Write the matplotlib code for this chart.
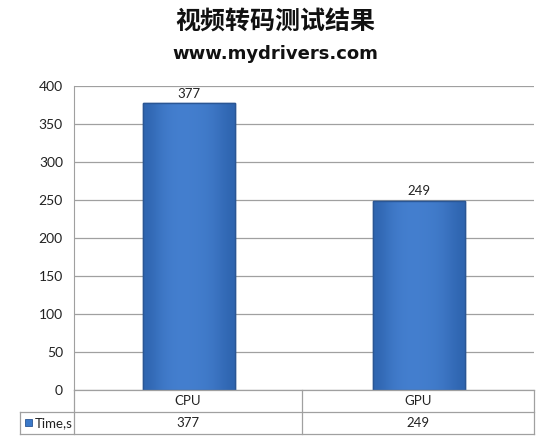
import numpy as np
import matplotlib.pyplot as plt
from matplotlib.lines import Line2D
from matplotlib.patches import Rectangle
from matplotlib.colors import LinearSegmentedColormap

plt.rcParams['font.family'] = ['Lato', 'Noto Sans CJK SC', 'DejaVu Sans']

# data
categories = ['CPU', 'GPU']
times = [377, 249]
series_name = 'Time,s'
yticks = [0, 50, 100, 150, 200, 250, 300, 350, 400]

W, H = 550, 444
fig = plt.figure(figsize=(5.5, 4.44), dpi=100)
ax = fig.add_axes([74 / W, 1 - 390 / H, 460 / W, 304 / H])

x = np.arange(len(categories))
bars = ax.bar(x, times, width=0.4, color='#3b79c9', edgecolor='#2a5694', linewidth=1.0, zorder=3)

# soft horizontal shading inside each bar
grad = np.array([[0.0, 0.55, 0.8, 0.85, 0.8, 0.7, 0.45, 0.0]])
cmap = LinearSegmentedColormap.from_list('bar', ['#2f65b0', '#447fcf'])
for b in bars:
    bx, by = b.get_x(), b.get_y()
    im = ax.imshow(grad, extent=[bx, bx + b.get_width(), by, by + b.get_height()],
                   aspect='auto', cmap=cmap, interpolation='bicubic', zorder=3.5)
    im.set_clip_path(b)
    ax.add_patch(Rectangle((bx, by), b.get_width(), b.get_height(), fill=False,
                           edgecolor='#2a5694', linewidth=1.0, zorder=4))

for xi, v in zip(x, times):
    ax.text(xi, v + 5, str(v), ha='center', va='bottom', fontsize=9.5, color='#222222')

ax.set_xlim(-0.5, 1.5)
ax.set_ylim(0, 400)
ax.set_yticks(yticks)
ax.set_yticklabels([str(t) for t in yticks], fontsize=10, color='#222222')
ax.tick_params(axis='y', length=0, pad=8)
ax.set_xticks([])
ax.grid(axis='y', color='#a0a0a0', linewidth=0.9, zorder=0)
for s in ['top', 'right', 'bottom']:
    ax.spines[s].set_visible(False)
ax.spines['left'].set_color('#a0a0a0')

# titles
fig.text(0.5, 1 - 22 / H, '视频转码测试结果', ha='center', va='center', fontsize=18,
         fontweight='bold', color='#111111', family=['Noto Sans CJK SC', 'DejaVu Sans'])
fig.text(0.5, 1 - 54 / H, 'www.mydrivers.com', ha='center', va='center', fontsize=13,
         fontweight='bold', color='#111111', family=['DejaVu Sans'])

# data table
lc = '#a0a0a0'
def fx(p):
    return p / W
def fy(p):
    return 1 - p / H
lines = [
    ((74, 534), (390, 390)),
    ((20, 534), (412, 412)),
    ((20, 534), (434, 434)),
    ((74, 74), (390, 434)),
    ((302, 302), (390, 434)),
    ((534, 534), (390, 434)),
    ((20, 20), (412, 434)),
]
for (xs, ys) in lines:
    fig.add_artist(Line2D([fx(xs[0]), fx(xs[1])], [fy(ys[0]), fy(ys[1])], color=lc, linewidth=0.9))

col_centers = [188, 418]
for c, name, v in zip(col_centers, categories, times):
    fig.text(fx(c), fy(401), name, ha='center', va='center', fontsize=9.5, color='#222222')
    fig.text(fx(c), fy(423), str(v), ha='center', va='center', fontsize=9.5, color='#222222')
fig.add_artist(Rectangle((fx(25), fy(426)), 7 / W, 7 / H, facecolor='#3b79c9', edgecolor='#2a5694', linewidth=0.6))
fig.text(fx(35), fy(423), series_name, ha='left', va='center', fontsize=9.5, color='#222222')

fig.savefig('out.png', dpi=100, facecolor='white')
